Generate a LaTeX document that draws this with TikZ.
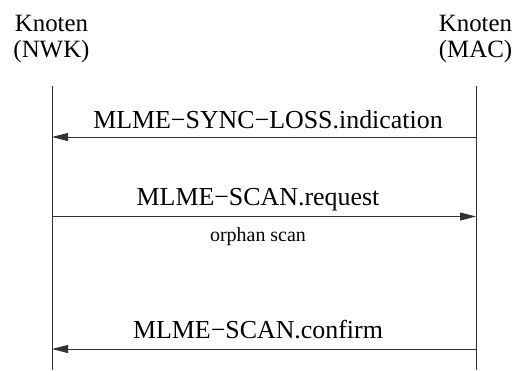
\documentclass[tikz,border=0pt]{standalone}
\usepackage{fontspec}
\setmainfont{Liberation Serif}
\usetikzlibrary{arrows.meta, positioning}

\begin{document}
\begin{tikzpicture}[x=1bp, y=-1bp,
  entity/.style={align=center, inner sep=0pt, anchor=north,
    font=\fontsize{25}{26}\selectfont},
  %
  lifeline/.style={draw=black!80, line width=0.9pt},
  %
  message/.style={draw=black!80, line width=0.9pt,
    -{Triangle[length=16bp, width=8bp]}},
  %
  msglabel/.style={anchor=base, inner sep=0pt,
    font=\fontsize{26}{28}\selectfont},
  %
  note/.style={anchor=base, inner sep=0pt,
    font=\fontsize{20}{22}\selectfont}
  ]

  \useasboundingbox (0,0) rectangle (516,370);

  \begin{scope}
    \node [entity] (nwk) at (51.5,15) {Knoten\\(NWK)};
    \node [entity] (mac) at (475.5,15) {Knoten\\(MAC)};
    %%%%%%%%%%%%%%%%%%%%%%%%%%%%%%%
    \coordinate (nwk top) at (52,86);
    \coordinate (nwk bot) at (52,370);
    \coordinate (mac top) at (476,86);
    \coordinate (mac bot) at (476,370);
    %%%%%%%%%%%%%%%%%%%%%%%%%%%%%%%
    \coordinate (nwk loss) at (52,137);
    \coordinate (mac loss) at (476,137);
    \coordinate (nwk req) at (52,216.5);
    \coordinate (mac req) at (476,216.5);
    \coordinate (nwk conf) at (52,349);
    \coordinate (mac conf) at (476,349);
  \end{scope}

  \begin{scope}
    \draw [lifeline] (nwk top) -- (nwk bot);
    \draw [lifeline] (mac top) -- (mac bot);
    \draw [message] (mac loss) -- (nwk loss)
    node [msglabel, midway, xshift=4bp, yshift=9bp]
    {MLME−SYNC−LOSS.indication};
    \draw [message] (nwk req) -- (mac req)
    node [msglabel, midway, xshift=-6bp, yshift=11bp] {MLME−SCAN.request}
    node [note, midway, xshift=-6bp, yshift=-25bp] {orphan scan};
    \draw [message] (mac conf) -- (nwk conf)
    node [msglabel, midway, xshift=-6bp, yshift=11bp] {MLME−SCAN.confirm};
  \end{scope}

\end{tikzpicture}
\end{document}
